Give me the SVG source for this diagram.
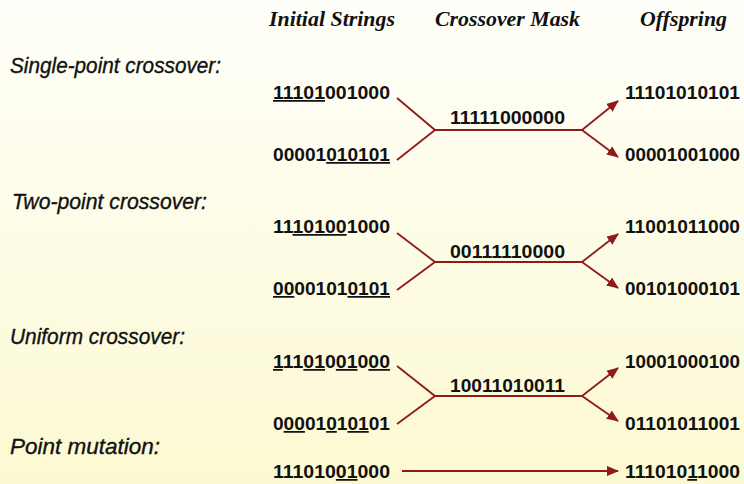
<svg xmlns="http://www.w3.org/2000/svg" width="744" height="484" viewBox="0 0 744 484">
  <defs>
    <linearGradient id="bg" x1="0" y1="0" x2="0" y2="1">
      <stop offset="0" stop-color="#fffffa"/>
      <stop offset="1" stop-color="#fcf9d2"/>
    </linearGradient>
    <marker id="arr" viewBox="0 0 12 10" refX="11" refY="5" markerWidth="12" markerHeight="10" markerUnits="userSpaceOnUse" orient="auto">
      <path d="M0,0 L12,5 L0,10 Z" fill="#8e1b17"/>
    </marker>
    <style>
      .hdr { font-family: "Liberation Serif", "Times New Roman", serif; font-weight: bold; font-style: italic; font-size: 20px; fill: #111; }
      .lbl { font-family: "Liberation Sans", Arial, sans-serif; font-style: italic; font-size: 22.5px; fill: #111; stroke: #111; stroke-width: 0.35px; }
      .bits { font-family: "Liberation Sans", Arial, sans-serif; font-weight: bold; font-size: 17.5px; fill: #111; }
      .u { text-decoration: underline; }
      .conn line, .conn polyline { stroke: #8e1b17; stroke-width: 1.8; fill: none; }
    </style>
  </defs>
  <rect width="744" height="484" fill="url(#bg)"/>

  <g id="headers">
    <text class="hdr" x="269" y="26" textLength="126" lengthAdjust="spacingAndGlyphs">Initial Strings</text>
    <text class="hdr" x="435" y="26" textLength="145" lengthAdjust="spacingAndGlyphs">Crossover Mask</text>
    <text class="hdr" x="640" y="26" textLength="87" lengthAdjust="spacingAndGlyphs">Offspring</text>
  </g>

  <g id="labels">
    <text class="lbl" x="10" y="73" textLength="211" lengthAdjust="spacingAndGlyphs">Single-point crossover:</text>
    <text class="lbl" x="12" y="209" textLength="195" lengthAdjust="spacingAndGlyphs">Two-point crossover:</text>
    <text class="lbl" x="10" y="344" textLength="175" lengthAdjust="spacingAndGlyphs">Uniform crossover:</text>
    <text class="lbl" x="10" y="454" textLength="150" lengthAdjust="spacingAndGlyphs">Point mutation:</text>
  </g>

  <g id="single-point">
    <text class="bits" x="273" y="99" textLength="117" lengthAdjust="spacingAndGlyphs"><tspan class="u">11101</tspan>001000</text>
    <text class="bits" x="273" y="161" textLength="117" lengthAdjust="spacingAndGlyphs">00001<tspan class="u">010101</tspan></text>
    <text class="bits" x="450" y="124" textLength="115" lengthAdjust="spacingAndGlyphs">11111000000</text>
    <text class="bits" x="625" y="99" textLength="115" lengthAdjust="spacingAndGlyphs">11101010101</text>
    <text class="bits" x="625" y="161" textLength="115" lengthAdjust="spacingAndGlyphs">00001001000</text>
  </g>

  <g id="two-point">
    <text class="bits" x="273" y="233" textLength="117" lengthAdjust="spacingAndGlyphs">11<tspan class="u">10100</tspan>1000</text>
    <text class="bits" x="273" y="295" textLength="117" lengthAdjust="spacingAndGlyphs"><tspan class="u">00</tspan>00101<tspan class="u">0101</tspan></text>
    <text class="bits" x="450" y="258" textLength="115" lengthAdjust="spacingAndGlyphs">00111110000</text>
    <text class="bits" x="625" y="233" textLength="115" lengthAdjust="spacingAndGlyphs">11001011000</text>
    <text class="bits" x="625" y="295" textLength="115" lengthAdjust="spacingAndGlyphs">00101000101</text>
  </g>

  <g id="uniform">
    <text class="bits" x="273" y="368" textLength="117" lengthAdjust="spacingAndGlyphs"><tspan class="u">1</tspan>11<tspan class="u">01</tspan>0<tspan class="u">01</tspan>0<tspan class="u">00</tspan></text>
    <text class="bits" x="273" y="430" textLength="117" lengthAdjust="spacingAndGlyphs">0<tspan class="u">00</tspan>01<tspan class="u">0</tspan>1<tspan class="u">01</tspan>01</text>
    <text class="bits" x="450" y="392" textLength="115" lengthAdjust="spacingAndGlyphs">10011010011</text>
    <text class="bits" x="625" y="368" textLength="115" lengthAdjust="spacingAndGlyphs">10001000100</text>
    <text class="bits" x="625" y="430" textLength="115" lengthAdjust="spacingAndGlyphs">01101011001</text>
  </g>

  <g id="mutation">
    <text class="bits" x="273" y="478" textLength="117" lengthAdjust="spacingAndGlyphs">111010<tspan class="u">01</tspan>000</text>
    <text class="bits" x="625" y="478" textLength="115" lengthAdjust="spacingAndGlyphs">111010<tspan class="u">1</tspan>1000</text>
  </g>

  <g id="connectors" class="conn">
    <polyline points="397,98 435,130 582,130"/>
    <line x1="397" y1="160" x2="435" y2="130"/>
    <line x1="582" y1="130" x2="618" y2="101" marker-end="url(#arr)"/>
    <line x1="582" y1="130" x2="618" y2="157" marker-end="url(#arr)"/>

    <polyline points="397,233 435,262 582,262"/>
    <line x1="397" y1="290" x2="435" y2="262"/>
    <line x1="582" y1="262" x2="618" y2="234" marker-end="url(#arr)"/>
    <line x1="582" y1="262" x2="618" y2="288" marker-end="url(#arr)"/>

    <polyline points="397,366 435,396 582,396"/>
    <line x1="397" y1="424" x2="435" y2="396"/>
    <line x1="582" y1="396" x2="618" y2="368" marker-end="url(#arr)"/>
    <line x1="582" y1="396" x2="618" y2="421" marker-end="url(#arr)"/>

    <line x1="402" y1="471" x2="618" y2="471" marker-end="url(#arr)"/>
  </g>
</svg>
